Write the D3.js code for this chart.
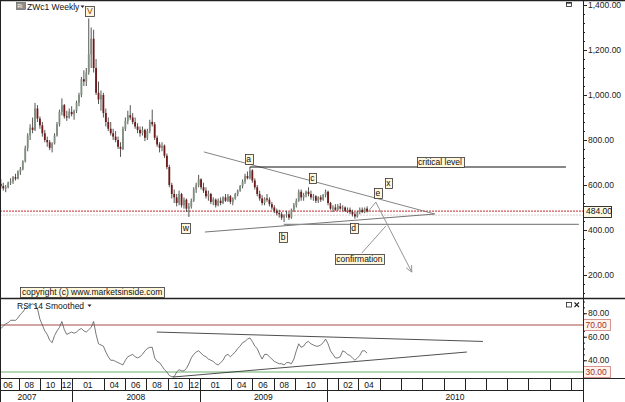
<!DOCTYPE html>
<html>
<head>
<meta charset="utf-8">
<script src="https://cdn.jsdelivr.net/npm/d3@7"></script>
<style>
  body { margin: 0; background: #fff; }
  svg { display: block; font-family: "Liberation Sans", Arial, sans-serif; }
</style>
</head>
<body>
<div id="chart"></div>
<script>
// ---- data ----
const firstWeek = "2007-06-11";
// weekly [open, high, low, close], US cents
const ohlc = [
  [605,625,585,595],[595,610,575,585],[585,600,568,590],[590,615,585,610],[610,630,600,615],
  [615,640,605,635],[635,650,620,628],[628,665,625,660],[660,680,645,670],[670,710,665,705],
  [705,775,700,765],[765,830,750,820],[820,870,800,855],[855,900,830,845],[845,965,840,940],
  [940,955,880,895],[895,905,850,865],[865,880,815,830],[830,845,790,800],[800,815,770,790],
  [790,800,755,765],[765,790,745,785],[785,830,780,820],[820,880,815,870],[870,935,860,925],
  [925,985,910,955],[955,960,895,905],[905,930,885,900],[900,940,895,925],[925,950,905,915],
  [915,935,890,930],[930,975,920,965],[965,1010,950,1000],[1000,1080,990,1070],[1070,1110,1040,1060],
  [1060,1120,1040,1100],[1100,1340,1090,1180],[1180,1300,1120,1250],[1250,1290,1100,1120],[1120,1160,1000,1010],
  [1010,1060,960,980],[980,1020,930,1000],[1000,1010,900,920],[920,940,860,880],[880,900,840,850],
  [850,880,820,830],[830,850,800,815],[815,840,790,800],[800,815,760,770],[770,790,725,760],
  [760,860,755,850],[850,900,840,885],[885,930,870,910],[910,955,890,900],[900,920,870,880],
  [880,900,850,860],[860,875,830,845],[845,860,815,830],[830,860,820,845],[845,850,795,810],
  [810,850,800,840],[840,890,830,880],[880,935,860,870],[870,880,800,810],[810,820,770,780],
  [780,790,745,765],[765,790,750,775],[775,780,720,730],[730,740,670,680],[680,690,590,600],
  [600,610,540,560],[560,580,520,545],[545,560,505,520],[520,575,510,560],[560,565,500,510],
  [510,545,495,535],[535,540,480,495],[495,520,458,505],[505,540,495,530],[530,590,525,580],
  [580,610,565,600],[600,645,590,625],[625,630,580,590],[590,610,565,575],[575,590,540,550],
  [550,575,530,560],[560,565,515,525],[525,545,510,535],[535,540,500,510],[510,540,505,530],
  [530,545,510,520],[520,550,515,545],[545,560,525,530],[530,560,525,550],[550,555,515,525],
  [525,545,510,540],[540,565,535,560],[560,580,550,575],[575,600,570,595],[595,625,585,615],
  [615,650,605,640],[640,660,625,630],[630,680,625,665],[665,670,610,620],[620,630,580,590],
  [590,600,550,560],[560,575,530,540],[540,555,510,520],[520,545,510,540],[540,560,525,535],
  [535,545,505,515],[515,525,490,500],[500,510,475,485],[485,495,465,475],[475,490,455,470],
  [470,480,445,455],[455,470,435,465],[465,485,455,470],[470,480,445,455],[455,495,450,490],
  [490,520,480,510],[510,540,500,530],[530,580,525,570],[570,580,530,545],[545,565,530,555],
  [555,575,545,570],[570,590,550,560],[560,575,535,545],[545,560,530,550],[550,555,520,530],
  [530,550,520,545],[545,555,525,535],[535,560,530,555],[555,580,545,570],[570,575,510,520],
  [520,525,490,495],[495,510,480,500],[500,515,485,490],[490,515,485,505],[505,520,490,495],
  [495,510,485,500],[500,505,480,485],[485,500,475,490],[490,500,470,480],[480,490,460,470],
  [470,480,450,460],[460,485,455,480],[480,500,470,490],[490,500,475,480],[480,500,475,495],
  [495,505,478,484]
];
// RSI 14 smoothed, one value per week
const rsi14 = [
  67,69,71,72,74,74,74,76,79,81,84,86,87,88,87,84,75,70,65,62,
  57,55,61,65,68,73,66,62,63,64,63,64,66,67,65,64,66,68,73,62,
  54,53,52,47,43,40,40,39,38,37,36,40,43,44,45,43,42,43,45,48,
  50,51,51,42,39,38,35,32,30,27,26,26,30,32,31,31,33,37,42,45,
  47,48,46,44,43,41,40,39,37,36,38,40,44,45,43,45,47,50,52,55,
  56,58,59,56,52,50,45,41,45,45,43,41,39,38,37,37,36,38,38,37,
  41,48,54,51,52,55,56,54,53,52,52,53,55,58,54,48,45,42,42,43,
  48,47,45,44,42,40,42,44,48,48,46
];
const lastPrice = 484;
const criticalLevel = 680;
const supportLevel = 425;
const rsiUpper = 70, rsiLower = 30;
const priceTicks = [200, 400, 600, 800, 1000, 1200, 1400];
const rsiTicks = [40, 60, 80];
const monthCells = [
  ["2007-06-01","06"],["2007-08-01","08"],["2007-10-01","10"],["2007-12-01","12"],
  ["2008-01-01","01"],["2008-04-01","04"],["2008-06-01","06"],["2008-08-01","08"],["2008-10-01","10"],["2008-12-01","12"],
  ["2009-01-01","01"],["2009-04-01","04"],["2009-06-01","06"],["2009-08-01","08"],["2009-10-01","10"],
  ["2010-01-01",""],["2010-02-01","02"],["2010-04-01","04"],["2010-06-01",""],["2010-08-01",""],
  ["2010-10-01",""],["2010-12-01",""],["2011-02-01",""],["2011-04-01",""],["2011-06-01",""],
  ["2011-08-01",""],["2011-10-01",""],["2011-12-01",""]
];
const yearCells = [["2007-01-01","2007"],["2008-01-01","2008"],["2009-01-01","2009"],["2010-01-01","2010"]];

// wave labels and notes: [text, date, price]
const waveLabels = [
  ["V","2008-02-21",1375],["w","2008-11-22",407],["a","2009-05-21",716],["b","2009-08-28",371],
  ["c","2009-11-20",629],["d","2010-03-18",407],["e","2010-05-27",564],["x","2010-06-26",611]
];
const notes = [["critical level","2010-11-21",704],["confirmation","2010-04-04",269]];
// drawn lines: [[date, price], [date, price]]
const upperTrend = [["2009-01-13",747],["2010-11-06",471]];
const lowerTrend = [["2009-01-16",391],["2010-11-06",471]];
const criticalLine = [["2009-05-25",criticalLevel],["2011-11-17",criticalLevel]];
const supportLine = [["2009-08-30",supportLevel],["2011-12-24",supportLevel]];
const projection = [["2010-04-28",480],["2010-05-21",524],["2010-09-01",213]];
const confirmLine = [["2010-04-11",298],["2010-06-19",418]];
const rsiUpperTrend = [["2008-08-31",64],["2011-03-24",56]];
const rsiLowerTrend = [["2008-10-16",25.7],["2011-02-06",47]];

// ---- layout ----
const W = 625, H = 402, plotR = 583;
const mainTop = 0, mainBot = 298.5, rsiBot = 378.5, monthBot = 390.5;
const parse = d3.timeParse("%Y-%m-%d");

const bars = ohlc.map((d, i) => ({
  date: d3.timeDay.offset(parse(firstWeek), i * 7),
  o: d[0], h: d[1], l: d[2], c: d[3], rsi: rsi14[i]
}));

const x = d3.scaleTime()
  .domain([parse("2008-01-01"), parse("2010-01-01")])
  .range([72, 327]);
const y = d3.scaleLinear().domain([0, 1400]).range([320, 5]);
const yR = d3.scaleLinear().domain([30, 70]).range([372, 325]);

const svg = d3.select("#chart").append("svg")
  .attr("width", W).attr("height", H);

const defs = svg.append("defs");
defs.append("clipPath").attr("id", "clipMain")
  .append("rect").attr("x", 0).attr("y", mainTop).attr("width", plotR).attr("height", mainBot - mainTop);
defs.append("clipPath").attr("id", "clipRsi")
  .append("rect").attr("x", 0).attr("y", mainBot).attr("width", plotR).attr("height", rsiBot - mainBot);

const fontSize = "8.5px";

// ---- main panel ----
const gMain = svg.append("g").attr("clip-path", "url(#clipMain)");

// last price dotted line + faint shadow
gMain.append("line")
  .attr("x1", 0).attr("x2", plotR).attr("y1", y(lastPrice) + 4).attr("y2", y(lastPrice) + 4)
  .attr("stroke", "#d8d0d0").attr("stroke-dasharray", "2,1");
gMain.append("line")
  .attr("x1", 0).attr("x2", plotR).attr("y1", y(lastPrice)).attr("y2", y(lastPrice))
  .attr("stroke", "#c02828").attr("stroke-dasharray", "2,1").attr("stroke-width", 1);

// candles
gMain.selectAll("line.wick").data(bars).join("line").attr("class", "wick")
  .attr("x1", d => x(d.date)).attr("x2", d => x(d.date))
  .attr("y1", d => y(d.h)).attr("y2", d => y(d.l))
  .attr("stroke", "#2a2a2a").attr("stroke-width", 0.8);
gMain.selectAll("rect.body").data(bars).join("rect").attr("class", "body")
  .attr("x", d => x(d.date) - 0.9).attr("width", 1.8)
  .attr("y", d => y(Math.max(d.o, d.c)))
  .attr("height", d => Math.max(0.8, Math.abs(y(d.o) - y(d.c))))
  .attr("fill", d => d.c >= d.o ? "#7f8f80" : "#6e1818");

const pt = p => [x(parse(p[0])), y(p[1])];
const line = d3.line();

gMain.append("path").attr("d", line(upperTrend.map(pt)))
  .attr("stroke", "#777").attr("stroke-width", 0.9).attr("fill", "none");
gMain.append("path").attr("d", line(lowerTrend.map(pt)))
  .attr("stroke", "#666").attr("stroke-width", 0.9).attr("fill", "none");
gMain.append("path").attr("d", line(criticalLine.map(pt)))
  .attr("stroke", "#111").attr("stroke-width", 1.2).attr("fill", "none");
gMain.append("path").attr("d", line(supportLine.map(pt)))
  .attr("stroke", "#8a8a8a").attr("stroke-width", 1.4).attr("fill", "none");
gMain.append("path").attr("d", line(projection.map(pt)))
  .attr("stroke", "#888").attr("stroke-width", 0.9).attr("fill", "none");
gMain.append("path").attr("d", line(confirmLine.map(pt)))
  .attr("stroke", "#888").attr("stroke-width", 0.9).attr("fill", "none");

// arrowhead at the end of the projection
{
  const a = pt(projection[1]), b = pt(projection[2]);
  const ang = Math.atan2(b[1] - a[1], b[0] - a[0]);
  const len = 7, spread = 0.45;
  const p1 = [b[0] - len * Math.cos(ang - spread), b[1] - len * Math.sin(ang - spread)];
  const p2 = [b[0] - len * Math.cos(ang + spread), b[1] - len * Math.sin(ang + spread)];
  gMain.append("path").attr("d", line([p1, b, p2]))
    .attr("stroke", "#888").attr("stroke-width", 0.9).attr("fill", "none");
}

// boxed labels
function boxLabel(g, text, cx, cy, color) {
  const t = g.append("text").attr("x", cx).attr("y", cy + 3)
    .attr("text-anchor", "middle").attr("font-size", fontSize)
    .attr("fill", color || "#111").text(text);
  const w = t.node().getComputedTextLength();
  g.insert("rect", function() { return t.node(); })
    .attr("x", Math.round(cx - w / 2 - 1.5) + 0.5).attr("y", Math.round(cy - 5) + 0.5)
    .attr("width", Math.round(w + 3)).attr("height", 10)
    .attr("fill", "#fff6dc").attr("stroke", "#333").attr("stroke-width", 0.8);
}
const gLab = svg.append("g");
waveLabels.forEach(d => {
  const p = pt([d[1], d[2]]);
  boxLabel(gLab, d[0], p[0], p[1], d[0] === "V" ? "#8a3a00" : "#111");
});
notes.forEach(d => {
  const p = pt([d[1], d[2]]);
  boxLabel(gLab, d[0], p[0], p[1]);
});

// copyright
{
  const t = gLab.append("text").attr("x", 22).attr("y", 295)
    .attr("font-size", fontSize).attr("fill", "#111")
    .text("copyright (c) www.marketsinside.com");
  const w = t.node().getComputedTextLength();
  gLab.insert("rect", function() { return t.node(); })
    .attr("x", 20.5).attr("y", 287.5).attr("width", Math.round(w + 4)).attr("height", 10)
    .attr("fill", "#fff6dc").attr("stroke", "#333").attr("stroke-width", 0.8);
}

// title
svg.append("rect").attr("x", 16.5).attr("y", 2.5).attr("width", 9).attr("height", 7)
  .attr("fill", "#8c8c8c").attr("stroke", "#555").attr("stroke-width", 0.6);
svg.append("text").attr("x", 17.5).attr("y", 8.3).attr("font-size", "5px").attr("fill", "#fff")
  .text("Rt");
svg.append("text").attr("x", 27).attr("y", 10).attr("font-size", fontSize).attr("fill", "#111")
  .text("ZWc1 Weekly");
svg.append("path").attr("d", "M80.5,5.5 L84.5,5.5 L82.5,8 Z").attr("fill", "#222");
// window icon
svg.append("rect").attr("x", 566.5).attr("y", 2.5).attr("width", 5).attr("height", 4)
  .attr("fill", "none").attr("stroke", "#222").attr("stroke-width", 0.8);
svg.append("line").attr("x1", 566.5).attr("x2", 571.5).attr("y1", 3).attr("y2", 3)
  .attr("stroke", "#222").attr("stroke-width", 1.2);

// price axis
const axMain = svg.append("g").attr("transform", `translate(${plotR},0)`)
  .call(d3.axisRight(y).tickValues(priceTicks).tickFormat(d3.format(",.2f")).tickSize(4).tickPadding(1));
svg.append("g").attr("transform", `translate(${plotR},0)`)
  .call(d3.axisRight(y).tickValues(d3.range(120, 1400, 40)).tickFormat("").tickSize(2));

// last price box
{
  const yy = y(lastPrice);
  svg.append("rect").attr("x", plotR + 0.5).attr("y", Math.round(yy - 5.5) + 0.5)
    .attr("width", 28).attr("height", 11).attr("fill", "#fff8e4").attr("stroke", "#222").attr("stroke-width", 0.9);
  svg.append("text").attr("x", plotR + 3).attr("y", yy + 3.2).attr("font-size", fontSize)
    .attr("fill", "#111").text(d3.format(".2f")(lastPrice));
}

// ---- RSI panel ----
const gR = svg.append("g").attr("clip-path", "url(#clipRsi)");
gR.append("line").attr("x1", 0).attr("x2", plotR).attr("y1", yR(rsiUpper)).attr("y2", yR(rsiUpper))
  .attr("stroke", "#a84a4a").attr("stroke-width", 1);
gR.append("line").attr("x1", 0).attr("x2", plotR).attr("y1", yR(rsiLower)).attr("y2", yR(rsiLower))
  .attr("stroke", "#6aae6a").attr("stroke-width", 1);
const ptR = p => [x(parse(p[0])), yR(p[1])];
gR.append("path").attr("d", line(rsiUpperTrend.map(ptR)))
  .attr("stroke", "#222").attr("stroke-width", 0.8).attr("fill", "none");
gR.append("path").attr("d", line(rsiLowerTrend.map(ptR)))
  .attr("stroke", "#222").attr("stroke-width", 0.8).attr("fill", "none");
gR.append("path")
  .attr("d", d3.line().x(d => x(d.date)).y(d => yR(d.rsi))(bars))
  .attr("stroke", "#555").attr("stroke-width", 0.8).attr("fill", "none");

svg.append("text").attr("x", 17).attr("y", 309).attr("font-size", fontSize).attr("fill", "#111")
  .text("RSI 14 Smoothed");
svg.append("path").attr("d", "M87.5,304.5 L91.5,304.5 L89.5,307 Z").attr("fill", "#222");
svg.append("rect").attr("x", 566.5).attr("y", 302.5).attr("width", 5).attr("height", 4.5)
  .attr("fill", "none").attr("stroke", "#222").attr("stroke-width", 0.8);
svg.append("path").attr("d", "M574.5,302.5 L579,307 M579,302.5 L574.5,307")
  .attr("stroke", "#222").attr("stroke-width", 1.1);

svg.append("g").attr("transform", `translate(${plotR},0)`)
  .call(d3.axisRight(yR).tickValues(rsiTicks).tickFormat(d3.format(".2f")).tickSize(4).tickPadding(1));
svg.append("g").attr("transform", `translate(${plotR},0)`)
  .call(d3.axisRight(yR).tickValues(d3.range(30, 91, 5)).tickFormat("").tickSize(2));

[[rsiUpper, "#d48a8a"], [rsiLower, "#d48a8a"]].forEach(([v, c]) => {
  const yy = yR(v);
  svg.append("rect").attr("x", plotR + 0.5).attr("y", Math.round(yy - 6) + 0.5)
    .attr("width", 27).attr("height", 11).attr("fill", "#fff4ec").attr("stroke", c).attr("stroke-width", 0.9);
  svg.append("text").attr("x", plotR + 2.5).attr("y", yy + 3.2).attr("font-size", fontSize)
    .attr("fill", "#a03030").text(d3.format(".2f")(v));
});

// tidy axis styling
svg.selectAll(".domain").remove();
svg.selectAll(".tick line").attr("stroke", "#222");
svg.selectAll(".tick text").attr("font-size", fontSize).attr("font-family", "Liberation Sans, Arial, sans-serif").attr("fill", "#222");

// ---- time axis ----
const gT = svg.append("g");
const monthX = monthCells.map(d => x(parse(d[0])));
monthCells.forEach((d, i) => {
  const x0 = Math.max(0, monthX[i]);
  const x1 = i + 1 < monthCells.length ? Math.min(plotR, monthX[i + 1]) : plotR;
  if (monthX[i] > 0 && monthX[i] < plotR) {
    gT.append("line").attr("x1", Math.round(monthX[i]) + 0.5).attr("x2", Math.round(monthX[i]) + 0.5)
      .attr("y1", rsiBot).attr("y2", monthBot).attr("stroke", "#222").attr("stroke-width", 1);
  }
  if (d[1]) {
    gT.append("text").attr("x", (Math.max(monthX[i], -3) + x1) / 2).attr("y", 388)
      .attr("text-anchor", "middle").attr("font-size", fontSize).attr("fill", "#111").text(d[1]);
  }
});
yearCells.forEach((d, i) => {
  const xs = x(parse(d[0]));
  const xe = i + 1 < yearCells.length ? x(parse(yearCells[i + 1][0])) : plotR;
  if (xs > 0) {
    gT.append("line").attr("x1", Math.round(xs) + 0.5).attr("x2", Math.round(xs) + 0.5)
      .attr("y1", rsiBot).attr("y2", H).attr("stroke", "#222").attr("stroke-width", 1);
  }
  const cx = i === 0 ? 27 : (Math.max(0, xs) + xe) / 2;
  gT.append("text").attr("x", cx).attr("y", 400)
    .attr("text-anchor", "middle").attr("font-size", fontSize).attr("fill", "#111").text(d[1]);
});

// ---- frame ----
const frame = svg.append("g").attr("stroke", "#222").attr("fill", "none");
frame.append("line").attr("x1", 0).attr("x2", W).attr("y1", 0.5).attr("y2", 0.5).attr("stroke-width", 1.5);
frame.append("line").attr("x1", 0.5).attr("x2", 0.5).attr("y1", 0).attr("y2", H).attr("stroke-width", 1);
frame.append("line").attr("x1", plotR + 0.5).attr("x2", plotR + 0.5).attr("y1", 0).attr("y2", H).attr("stroke-width", 1);
frame.append("line").attr("x1", 0).attr("x2", W).attr("y1", mainBot).attr("y2", mainBot).attr("stroke-width", 1.3);
frame.append("line").attr("x1", 0).attr("x2", W).attr("y1", rsiBot).attr("y2", rsiBot).attr("stroke-width", 1);
frame.append("line").attr("x1", 0).attr("x2", plotR).attr("y1", monthBot).attr("y2", monthBot).attr("stroke-width", 1);
</script>
</body>
</html>
